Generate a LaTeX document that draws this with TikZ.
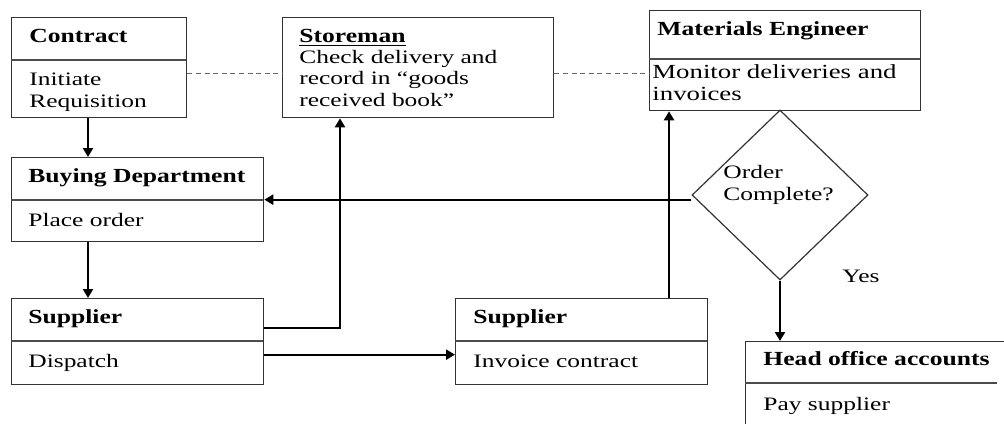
\documentclass[tikz,border=0pt]{standalone}
\usepackage{fontspec}
\setmainfont{Liberation Serif}[FakeStretch=1.34, BoldFeatures={FakeStretch=1.28}]
\usetikzlibrary{arrows.meta,shapes.geometric}

\tikzset{
  box/.style={draw=black!80, line width=0.65pt, inner sep=0pt, anchor=north west},
  rule/.style={draw=black!70, line width=0.6pt},
  head/.style={anchor=base west, inner sep=0pt, font=\bfseries},
  txt/.style={anchor=base west, inner sep=0pt, align=left},
  flow/.style={line width=1.15pt, -{Triangle[length=4.5pt,width=5pt]}},
  link/.style={draw=black!60, line width=0.5pt, dash pattern=on 2.5pt off 1.8pt},
  decision/.style={draw=black!80, line width=0.6pt, diamond, inner sep=0pt,
    minimum width=88pt, minimum height=85pt}
}

\begin{document}
\begin{tikzpicture}[x=0.5pt, y=-0.5pt, font=\fontsize{9.5}{11}\selectfont]
\useasboundingbox (0,0) rectangle (1004,423);
\clip (0,0) rectangle (1004,423);

\node [box, minimum width=87.5pt, minimum height=50pt] (contract) at (11,17) {};
\draw [rule] (11,60) -- (186,60);
\node [head] (contracthead) at (29,42) {Contract};
\node [txt] (contracttxt) at (29,107) {Initiate\\Requisition};

\node [box, minimum width=135.5pt, minimum height=50pt] (store) at (282,17) {};
\node [head] (storehead) at (299,42) {\underline{Storeman}};
\node [txt, font=\fontsize{9.5}{10.7}\selectfont] (storetxt) at (299,106) {Check delivery and\\record in “goods\\received book”};

\node [box, minimum width=135.5pt, minimum height=50pt] (eng) at (649,10) {};
\draw [rule] (649,59) -- (920,59);
\node [head, font=\fontsize{10}{11}\selectfont\bfseries] (enghead) at (657,35) {Materials Engineer};
\node [txt, font=\fontsize{10}{11}\selectfont] (engtxt) at (652,100) {Monitor deliveries and\\invoices};

\node [box, minimum width=126pt, minimum height=42pt] (buy) at (11,157) {};
\draw [rule] (11,200) -- (263,200);
\node [head] (buyhead) at (28,182) {Buying Department};
\node [txt] (buytxt) at (28,226) {Place order};

\node [box, minimum width=126pt, minimum height=43pt] (sup1) at (11,298) {};
\draw [rule] (11,341) -- (263,341);
\node [head] (sup1head) at (28,323) {Supplier};
\node [txt] (sup1txt) at (28,367) {Dispatch};

\node [box, minimum width=126pt, minimum height=43pt] (sup2) at (455,298) {};
\draw [rule] (455,341) -- (707,341);
\node [head] (sup2head) at (473,323) {Supplier};
\node [txt] (sup2txt) at (473,367) {Invoice contract};

\node [box, minimum width=132.5pt, minimum height=50pt] (office) at (745,341) {};
\draw [rule] (745,383) -- (997,383);
\node [head] (officehead) at (763,365) {Head office accounts};
\node [txt] (officetxt) at (763,410) {Pay supplier};

\node [decision] (check) at (780,195) {};
\node [txt] (checktxt) at (723,200) {Order\\Complete?};
\node [txt] (yes) at (842,282) {Yes};

\coordinate (d1) at ([yshift=-2.75pt]contract.east);
\draw [link] (d1) -- (d1 -| store.west);
\coordinate (d2) at ([yshift=-2.75pt]store.east);
\draw [link] (d2) -- (d2 -| eng.west);

\coordinate (c1) at ([xshift=38.5pt]contract.south west);
\draw [flow] (c1) -- (c1 |- buy.north);
\coordinate (b1) at ([xshift=38.5pt]buy.south west);
\draw [flow] (b1) -- (b1 |- sup1.north);
\draw [flow] ([yshift=7pt]sup1.east) -| ([xshift=29pt]store.south west);
\draw [flow] ([yshift=-6.5pt]sup1.east) -- ([yshift=-6.5pt]sup2.west);
\coordinate (s2) at ([xshift=107pt]sup2.north west);
\draw [flow] (s2) -- (s2 |- eng.south);
\draw [flow] (buy.east -| check.west) -- (buy.east);
\draw [flow] (check.south) -- (check.south |- office.north);
\end{tikzpicture}
\end{document}
